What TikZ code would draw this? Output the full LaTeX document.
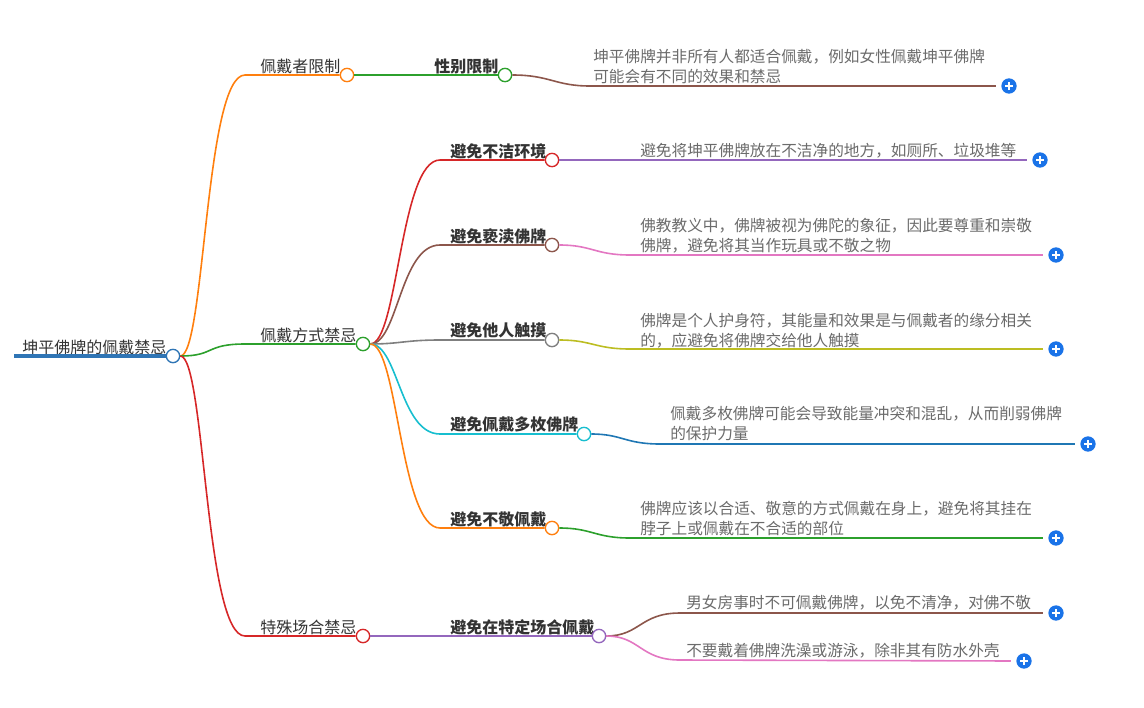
\documentclass[tikz,border=0pt]{standalone}
\usepackage{fontspec}
\setmainfont{Noto Sans CJK SC}
\usetikzlibrary{positioning}

\definecolor{cRoot}{HTML}{2F75B5}
\definecolor{cOrange}{HTML}{FF7F0E}
\definecolor{cGreen}{HTML}{2CA02C}
\definecolor{cRed}{HTML}{D62728}
\definecolor{cPurple}{HTML}{9467BD}
\definecolor{cBrown}{HTML}{8C564B}
\definecolor{cPink}{HTML}{E377C2}
\definecolor{cGray}{HTML}{7F7F7F}
\definecolor{cOlive}{HTML}{BCBD22}
\definecolor{cCyan}{HTML}{17BECF}
\definecolor{cBlue}{HTML}{1F77B4}
\definecolor{cBtn}{HTML}{1A73E8}
\definecolor{cText}{HTML}{333333}
\definecolor{cNote}{HTML}{6B6B6B}

\begin{document}
\begin{tikzpicture}[
  x=0.75pt, y=-0.75pt,
  every node/.style={font=\fontsize{12}{15}\selectfont, inner sep=0pt},
  topic/.style={anchor=west, text=cText},
  sub/.style={anchor=west, text=cText, font=\fontsize{12}{15}\selectfont\bfseries},
  note/.style={anchor=west, text=cNote, align=left, font=\fontsize{11.75}{15}\selectfont},
  dot/.style={circle, draw=#1, fill=white, line width=1pt, minimum size=10pt},
  link/.style={draw=#1, line width=1.2pt},
  tonote/.style={link=#1, shorten >=4pt},
  plusbtn/.style={circle, fill=cBtn, minimum size=11.5pt,
    path picture={\draw[white, line width=1.3pt]
      ([xshift=-3pt]path picture bounding box.center) -- ([xshift=3pt]path picture bounding box.center)
      ([yshift=-3pt]path picture bounding box.center) -- ([yshift=3pt]path picture bounding box.center);}}
]
\useasboundingbox (0,0) rectangle (1144,707);

% Root
\coordinate (r0) at (14,356);
\node[topic] (root) at (22,347) {坤平佛牌的佩戴禁忌};
\node[dot=cRoot] (rdot) at (173,356) {};
\draw[link=cRoot, line width=2.6pt] (r0) -- (rdot.west);

% First level
\node[topic] (wearer) at (260,66) {佩戴者限制};
\node[dot=cOrange] (d1) at (347,75) {};
\coordinate (u1) at (245,75);
\node[topic] (manner) at (260,335) {佩戴方式禁忌};
\node[dot=cGreen] (d2) at (363,344) {};
\coordinate (u2) at (245,344);
\node[topic] (occasion) at (260,627) {特殊场合禁忌};
\node[dot=cRed] (d3) at (363,636) {};
\coordinate (u3) at (245,636);

\draw[link=cOrange] (rdot.east) .. controls (205,356) and (205,75) .. (u1) -- (d1.west);
\draw[link=cGreen] (rdot.east) .. controls (215,356) and (205,344) .. (u2) -- (d2.west);
\draw[link=cRed] (rdot.east) .. controls (205,356) and (205,636) .. (u3) -- (d3.west);

% Second level
\node[sub] (gender) at (434,66) {性别限制};
\node[dot=cGreen] (e1) at (505,75) {};
\draw[link=cGreen] (d1.east) -- (e1.west);

\node[sub] (dirty) at (450,151) {避免不洁环境};
\node[dot=cRed] (e2) at (552,160) {};
\coordinate (v2) at (440,160);
\node[sub] (profane) at (450,236) {避免亵渎佛牌};
\node[dot=cBrown] (e3) at (552,245) {};
\coordinate (v3) at (440,245);
\node[sub] (touch) at (450,330) {避免他人触摸};
\node[dot=cGray] (e4) at (552,340) {};
\coordinate (v4) at (440,340);
\node[sub] (several) at (450,424) {避免佩戴多枚佛牌};
\node[dot=cCyan] (e5) at (584,434) {};
\coordinate (v5) at (440,434);
\node[sub] (disrespect) at (450,519) {避免不敬佩戴};
\node[dot=cOrange] (e6) at (552,528) {};
\coordinate (v6) at (440,528);

\draw[link=cRed] (d2.east) .. controls (398,344) and (400,160) .. (v2) -- (e2.west);
\draw[link=cBrown] (d2.east) .. controls (398,344) and (400,245) .. (v3) -- (e3.west);
\draw[link=cGray] (d2.east) .. controls (400,344) and (405,340) .. (v4) -- (e4.west);
\draw[link=cCyan] (d2.east) .. controls (398,344) and (400,434) .. (v5) -- (e5.west);
\draw[link=cOrange] (d2.east) .. controls (398,344) and (400,528) .. (v6) -- (e6.west);

\node[sub] (place) at (450,627) {避免在特定场合佩戴};
\node[dot=cPurple] (e7) at (599,636) {};
\draw[link=cPurple] (d3.east) -- (e7.west);

% Notes
\node[note] (n1) at (593,66) {坤平佛牌并非所有人都适合佩戴，例如女性佩戴坤平佛牌\\可能会有不同的效果和禁忌};
\node[plusbtn] (p1) at (1009,86) {};
\coordinate (w1) at (590,86);
\draw[tonote=cBrown] (e1.east) .. controls (550,75) and (555,86) .. (w1) -- (p1.west);

\node[note] (n2) at (640,151) {避免将坤平佛牌放在不洁净的地方，如厕所、垃圾堆等};
\node[plusbtn] (p2) at (1040,160) {};
\draw[tonote=cPurple] (e2.east) -- (p2.west);

\node[note] (n3) at (640,235.5) {佛教教义中，佛牌被视为佛陀的象征，因此要尊重和崇敬\\佛牌，避免将其当作玩具或不敬之物};
\node[plusbtn] (p3) at (1056,255) {};
\coordinate (w3) at (630,255);
\draw[tonote=cPink] (e3.east) .. controls (592,245) and (595,255) .. (w3) -- (p3.west);

\node[note] (n4) at (640,330.5) {佛牌是个人护身符，其能量和效果是与佩戴者的缘分相关\\的，应避免将佛牌交给他人触摸};
\node[plusbtn] (p4) at (1056,349) {};
\coordinate (w4) at (630,349);
\draw[tonote=cOlive] (e4.east) .. controls (592,340) and (595,349) .. (w4) -- (p4.west);

\node[note] (n5) at (670,423.5) {佩戴多枚佛牌可能会导致能量冲突和混乱，从而削弱佛牌\\的保护力量};
\node[plusbtn] (p5) at (1088,444) {};
\coordinate (w5) at (660,444);
\draw[tonote=cBlue] (e5.east) .. controls (622,434) and (625,444) .. (w5) -- (p5.west);

\node[note] (n6) at (640,519) {佛牌应该以合适、敬意的方式佩戴在身上，避免将其挂在\\脖子上或佩戴在不合适的部位};
\node[plusbtn] (p6) at (1056,538) {};
\coordinate (w6) at (630,538);
\draw[tonote=cGreen] (e6.east) .. controls (592,528) and (595,538) .. (w6) -- (p6.west);

\node[note] (n7) at (686,603) {男女房事时不可佩戴佛牌，以免不清净，对佛不敬};
\node[plusbtn] (p7) at (1056,613) {};
\coordinate (w7) at (680,613);
\draw[tonote=cBrown] (e7.east) .. controls (640,636) and (640,613) .. (w7) -- (p7.west);

\node[note] (n8) at (686,651) {不要戴着佛牌洗澡或游泳，除非其有防水外壳};
\node[plusbtn] (p8) at (1024,661) {};
\coordinate (w8) at (680,660);
\draw[tonote=cPink] (e7.east) .. controls (640,636) and (640,660) .. (w8) -- (p8.west);

\end{tikzpicture}
\end{document}
